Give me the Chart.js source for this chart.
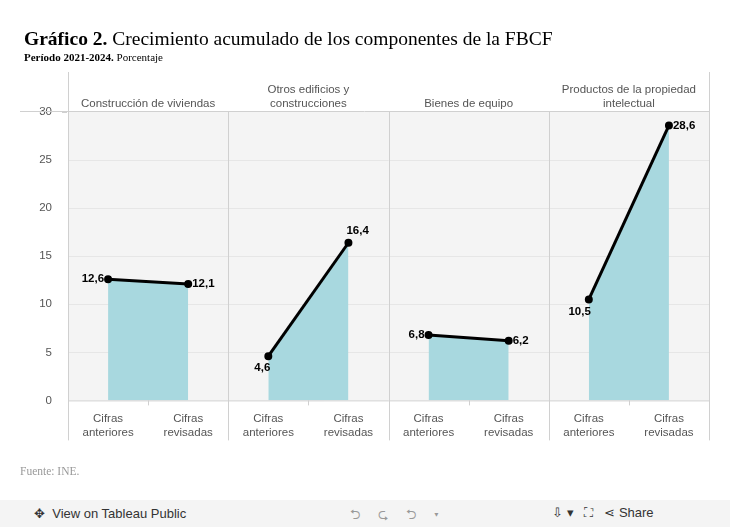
<!DOCTYPE html><html><head><meta charset="utf-8">
<script src="https://cdn.jsdelivr.net/npm/chart.js@4"></script>
<style>body{margin:0;background:#fff;width:730px;height:527px;overflow:hidden;font-family:"Liberation Serif",serif;position:relative}
#t{position:absolute;left:24px;top:28px;font-size:19.5px;color:#000}
#s{position:absolute;left:24px;top:51px;font-size:11px}
#f{position:absolute;left:20px;top:465px;font-size:11.5px;color:#999}
#bar{position:absolute;left:0;top:500px;width:730px;height:27px;background:#f4f4f4;font-family:"Liberation Sans",sans-serif;font-size:13px;color:#333}
#c{position:absolute;left:0;top:0}</style></head><body>
<canvas id="c" width="730" height="500"></canvas>
<div id="t"><b>Gráfico 2.</b> Crecimiento acumulado de los componentes de la FBCF</div>
<div id="s"><b>Período 2021-2024.</b> Porcentaje</div>
<div id="f">Fuente: INE.</div>
<div id="bar"><span style="position:absolute;left:34px;top:6px">✥ &nbsp;View on Tableau Public</span><span style="position:absolute;left:350px;top:5px;color:#999;letter-spacing:18px">⮌⮎⮌▾</span><span style="position:absolute;left:552px;top:5px">⇩ ▾ &nbsp; ⛶ &nbsp; ⋖ Share</span></div>
<script>
const groups=["Construcción de viviendas",["Otros edificios y","construcciones"],"Bienes de equipo",["Productos de la propiedad","intelectual"]];
const categories=["a0","r0","a1","r1","a2","r2","a3","r3"];
const tickLabels=[["Cifras","anteriores"],["Cifras","revisadas"]];
const anteriores=[12.6,4.6,6.8,10.5];
const revisadas=[12.1,16.4,6.2,28.6];
const labelPos=[["l","r"],["bl","tr"],["l","r"],["bl","r"]];
const datasets=anteriores.map((a,i)=>{const d=Array(8).fill(null);d[2*i]=a;d[2*i+1]=revisadas[i];
return {data:d,borderColor:"#000",borderWidth:3,backgroundColor:"#a8d8df",fill:'origin',pointRadius:2.5,pointBackgroundColor:"#000",pointBorderColor:"#000",spanGaps:false};});
const deco={id:'deco',beforeDatasetsDraw(c){const {ctx,chartArea:ca,scales:{x}}=c;ctx.save();
ctx.fillStyle="#f4f4f4";ctx.fillRect(ca.left,ca.top,ca.right-ca.left,ca.bottom-ca.top);
ctx.strokeStyle="#e6e6e6";ctx.lineWidth=1;[5,10,15,20,25].forEach(v=>{const y=Math.round(c.scales.y.getPixelForValue(v))+.5;ctx.beginPath();ctx.moveTo(ca.left,y);ctx.lineTo(ca.right,y);ctx.stroke();});
ctx.restore();},
afterDraw(c){const {ctx,chartArea:ca,scales:{x,y}}=c;ctx.save();const w=x.getPixelForValue(1)-x.getPixelForValue(0);
ctx.strokeStyle="#d0d0d0";ctx.lineWidth=1;
ctx.beginPath();ctx.moveTo(ca.left+.5,72);ctx.lineTo(ca.left+.5,ca.bottom+40);ctx.stroke();
ctx.beginPath();ctx.moveTo(ca.right+.5,72);ctx.lineTo(ca.right+.5,ca.bottom+40);ctx.stroke();
ctx.beginPath();ctx.moveTo(20,ca.top-.5);ctx.lineTo(ca.right,ca.top-.5);ctx.stroke();
ctx.beginPath();ctx.moveTo(ca.left,ca.bottom+.5);ctx.lineTo(ca.right,ca.bottom+.5);ctx.stroke();
for(let i=1;i<4;i++){const px=Math.round(x.getPixelForValue(2*i)-w/2)+.5;ctx.beginPath();ctx.moveTo(px,ca.top);ctx.lineTo(px,ca.bottom+40);ctx.stroke();}
for(let i=0;i<8;i++){if(i%2==1){const px=Math.round(x.getPixelForValue(i)-w/2)+.5;ctx.beginPath();ctx.moveTo(px,ca.bottom);ctx.lineTo(px,ca.bottom+5);ctx.stroke();}}
ctx.beginPath();ctx.moveTo(ca.left-6,ca.top+.5);ctx.lineTo(ca.left-1,ca.top+.5);ctx.stroke();
ctx.font="11.5px 'Liberation Sans',Arial";ctx.fillStyle="#555";ctx.textAlign="center";
groups.forEach((g,i)=>{const cx=(x.getPixelForValue(2*i)+x.getPixelForValue(2*i+1))/2;const L=Array.isArray(g)?g:[g];
L.forEach((t,j)=>ctx.fillText(t,cx,ca.top-5-(L.length-1-j)*14));});
ctx.font="bold 11.5px 'Liberation Sans',Arial";ctx.fillStyle="#000";
anteriores.forEach((a,i)=>{[a,revisadas[i]].forEach((v,k)=>{const px=x.getPixelForValue(2*i+k),py=y.getPixelForValue(v);const p=labelPos[i][k];
const s=v.toFixed(1).replace('.',',');ctx.textBaseline="middle";
if(p=="l"){ctx.textAlign="right";ctx.fillText(s,px-4,py);}else if(p=="r"){ctx.textAlign="left";ctx.fillText(s,px+4,py);}
else if(p=="bl"){ctx.textAlign="right";ctx.fillText(s,px+2,py+12);}else{ctx.textAlign="left";ctx.fillText(s,px-2,py-12);}});});
ctx.restore();}};
new Chart(document.getElementById('c'),{type:'line',data:{labels:categories,datasets},plugins:[deco],
options:{responsive:false,animation:false,layout:{padding:{left:0,right:21,top:112,bottom:56}},
plugins:{legend:{display:false},tooltip:{enabled:false}},
scales:{x:{offset:true,grid:{display:false},border:{display:false},ticks:{color:"#555",font:{family:"Liberation Sans",size:11.5},padding:4,maxRotation:0,autoSkip:false,callback:(v,i)=>tickLabels[i%2]}},
y:{min:0,max:30,afterFit(s){s.width=68;},grid:{display:false},border:{display:false},ticks:{stepSize:5,color:"#555",font:{family:"Liberation Sans",size:11.5},padding:8}}}}});
</script></body></html>
